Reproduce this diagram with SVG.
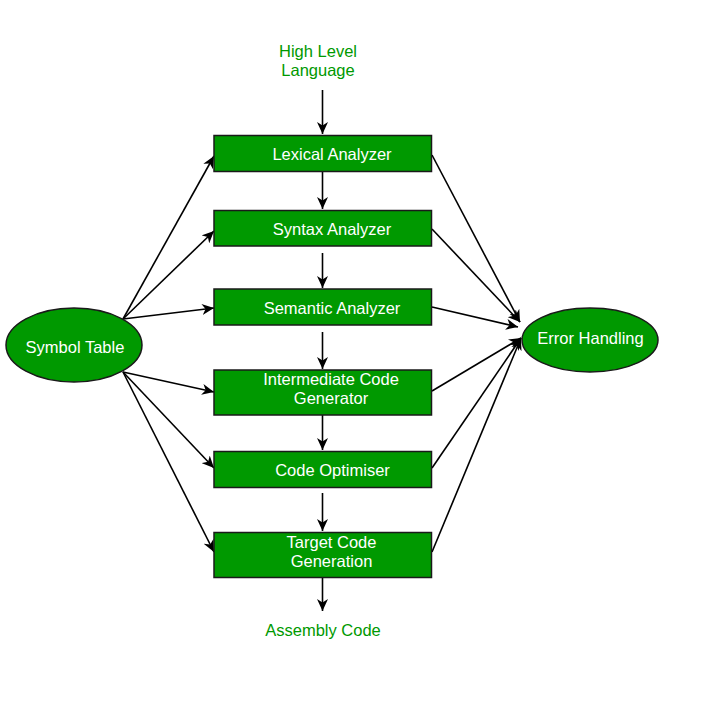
<svg xmlns="http://www.w3.org/2000/svg" width="716" height="710" viewBox="0 0 716 710">
<defs>
<style>
.box{fill:#009900;stroke:#1a1a1a;stroke-width:1.5}
.t{font-family:"Liberation Sans",Arial,sans-serif;font-size:16.5px;fill:#ffffff;text-anchor:middle}
.lbl{font-family:"Liberation Sans",Arial,sans-serif;font-size:16.5px;fill:#009900;text-anchor:middle}
.c{stroke:#000;stroke-width:1.6;fill:none;marker-end:url(#ah)}
</style>
<marker id="ah" markerUnits="userSpaceOnUse" markerWidth="13" markerHeight="11" refX="12" refY="5.5" orient="auto">
<path d="M0,0 L12,5.5 L0,11 L3.5,5.5 z" fill="#000"/>
</marker>
</defs>
<rect width="716" height="710" fill="#ffffff"/>
<g id="connectors">
<line class="c" x1="322.5" y1="90" x2="322.5" y2="134"/>
<line class="c" x1="322.5" y1="172" x2="322.5" y2="209"/>
<line class="c" x1="322.5" y1="253" x2="322.5" y2="288"/>
<line class="c" x1="322.5" y1="332" x2="322.5" y2="369"/>
<line class="c" x1="322.5" y1="415" x2="322.5" y2="450"/>
<line class="c" x1="322.5" y1="493" x2="322.5" y2="531"/>
<line class="c" x1="322.5" y1="578" x2="322.5" y2="611"/>
<line class="c" x1="123" y1="319" x2="214" y2="156"/>
<line class="c" x1="123" y1="319" x2="214" y2="231"/>
<line class="c" x1="123" y1="319" x2="214" y2="308"/>
<line class="c" x1="123" y1="372" x2="214" y2="392"/>
<line class="c" x1="123" y1="372" x2="214" y2="468"/>
<line class="c" x1="123" y1="372" x2="214" y2="552"/>
<line class="c" x1="432" y1="155" x2="520" y2="322"/>
<line class="c" x1="432" y1="229" x2="520" y2="322"/>
<line class="c" x1="432" y1="307" x2="518" y2="327"/>
<line class="c" x1="432" y1="391" x2="521" y2="338"/>
<line class="c" x1="432" y1="468" x2="521" y2="338"/>
<line class="c" x1="432" y1="552" x2="521" y2="338"/>
</g>
<g id="hll"><text class="lbl" x="318" y="57">High Level</text><text class="lbl" x="318" y="76">Language</text></g>
<g id="lexical"><rect class="box" x="214" y="135.5" width="217.5" height="36"/><text class="t" x="332" y="160">Lexical Analyzer</text></g>
<g id="syntax"><rect class="box" x="214" y="210.5" width="217.5" height="35.5"/><text class="t" x="332" y="235">Syntax Analyzer</text></g>
<g id="semantic"><rect class="box" x="214" y="289" width="217.5" height="36"/><text class="t" x="332" y="314">Semantic Analyzer</text></g>
<g id="intermediate"><rect class="box" x="214" y="370" width="217.5" height="45"/><text class="t" x="331" y="385">Intermediate Code</text><text class="t" x="331" y="404">Generator</text></g>
<g id="optimiser"><rect class="box" x="214" y="451.5" width="217.5" height="36"/><text class="t" x="332.5" y="476">Code Optimiser</text></g>
<g id="target"><rect class="box" x="214" y="532.5" width="217.5" height="45"/><text class="t" x="331.5" y="548">Target Code</text><text class="t" x="331.5" y="567">Generation</text></g>
<g id="asm"><text class="lbl" x="323" y="636">Assembly Code</text></g>
<g id="symbol"><ellipse class="box" cx="74" cy="345" rx="68" ry="37"/><text class="t" x="75" y="352.5">Symbol Table</text></g>
<g id="error"><ellipse class="box" cx="590" cy="340" rx="68" ry="32"/><text class="t" x="590.5" y="344">Error Handling</text></g>
</svg>
